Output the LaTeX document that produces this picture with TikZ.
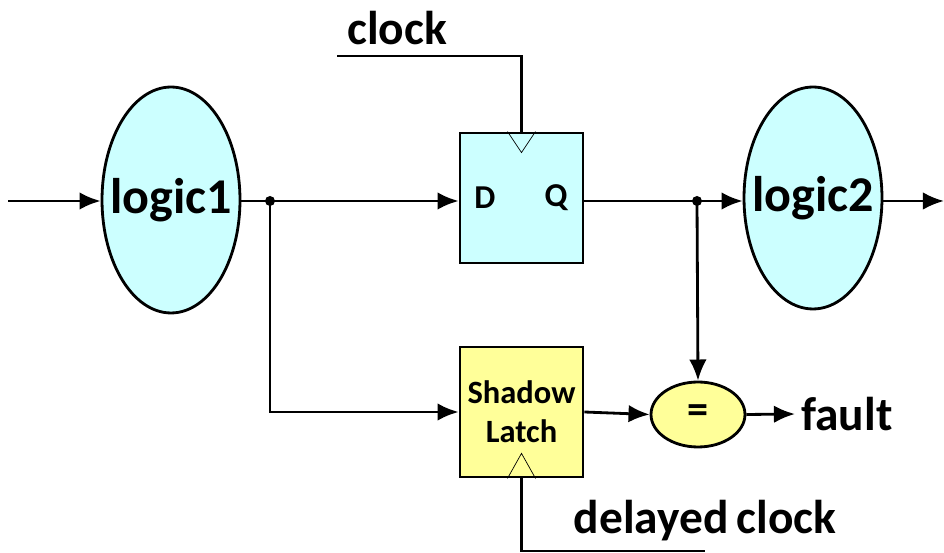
\documentclass[tikz,border=0pt]{standalone}
\usepackage{fontspec}
\setmainfont{Carlito}
\usetikzlibrary{arrows.meta,shapes.geometric}
\definecolor{logiccyan}{RGB}{204,255,255}
\definecolor{shadowyellow}{RGB}{255,255,153}

\begin{document}
\begin{tikzpicture}[
      x=0.02cm, y=-0.02cm,
      font=\bfseries,
      wire/.style={line width=1.6pt},
      arrow/.style={wire, -{Latex[length=12pt,width=10pt]}},
      logicblob/.style={
          ellipse,
          draw,
          line width=1.6pt,
          fill=logiccyan,
          inner xsep=-0.25cm,
          inner ysep=0pt,
          minimum width=2.76cm,
          font=\fontsize{28.5}{30}\selectfont\bfseries
        },
      latchbox/.style={
          rectangle,
          draw,
          line width=1.6pt,
          inner sep=0pt,
          minimum width=2.46cm,
          minimum height=2.6cm
        },
      dot/.style={circle, fill, inner sep=0pt, minimum size=0.2cm},
      label/.style={font=\fontsize{27}{29}\selectfont\bfseries}
    ]
    \useasboundingbox (0,0) rectangle (944,553);

    % logic stages
    \node[logicblob, minimum height=4.52cm] (logic1) at (171,200) {logic1};
    \node[logicblob, minimum height=4.44cm] (logic2) at (813,198) {logic2};

    % main flip-flop
    \node[latchbox, fill=logiccyan] (ff) at (521.5,198) {};
    \node[font=\fontsize{19}{21}\selectfont\bfseries] (dlabel) at (485,198) {D};
    \node[font=\fontsize{19}{21}\selectfont\bfseries] (qlabel) at (556,198) {Q};
    \draw[thin] ([xshift=-0.28cm]ff.north) -- ++(14,21) -- ++(14,-21);

    % shadow latch
    \node[latchbox, fill=shadowyellow, align=center,
          font=\fontsize{18.5}{22}\selectfont\bfseries] (shadow) at (521.5,412)
      {Shadow\\Latch};
    \draw[thin] ([xshift=-0.28cm]shadow.south) -- ++(14,-25) -- ++(14,25);

    % comparator
    \node[ellipse, draw, line width=1.6pt, fill=shadowyellow, inner sep=0pt,
          minimum width=1.88cm, minimum height=1.3cm,
          font=\fontsize{24}{26}\selectfont\bfseries] (cmp) at (698,414.5) {=};

    % labels
    \node[label] (clocklbl) at (397,28) {clock};
    \node[label, anchor=west] (faultlbl) at (795,414) {fault};
    \node[label] (dclocklbl) at (705,521) {delayed\,clock};

    % junctions and free ends
    \coordinate (in) at (8,201);
    \coordinate (out) at (944,201);
    \coordinate (j1) at (270,201);
    \coordinate (j2) at (697,201);
    \coordinate (clkin) at (337,56);
    \coordinate (dclkin) at (705,551);
    \node[dot] (d1) at (j1) {};
    \node[dot] (d2) at (j2) {};

    % datapath
    \draw[arrow] (in) -- (logic1.west |- in);
    \draw[arrow] (logic1.east |- j1) -- (ff.west |- j1);
    \draw[wire] (ff.east |- j2) -- (j2);
    \draw[arrow] (j2) -- (logic2.west |- j2);
    \draw[arrow] (logic2.east |- out) -- (out);

    % shadow path
    \draw[arrow] (j1) -- (j1 |- shadow.west) -- (shadow.west);
    \draw[arrow] (shadow.east) -- (cmp.west);
    \draw[arrow] (j2) -- (cmp.north);
    \draw[arrow] (cmp.east) -- (faultlbl.west);

    % clocks
    \draw[wire] (clkin) -- (ff.north |- clkin) -- (ff.north);
    \draw[wire] (shadow.south) -- (shadow.south |- dclkin) -- (dclkin);
  \end{tikzpicture}
\end{document}
